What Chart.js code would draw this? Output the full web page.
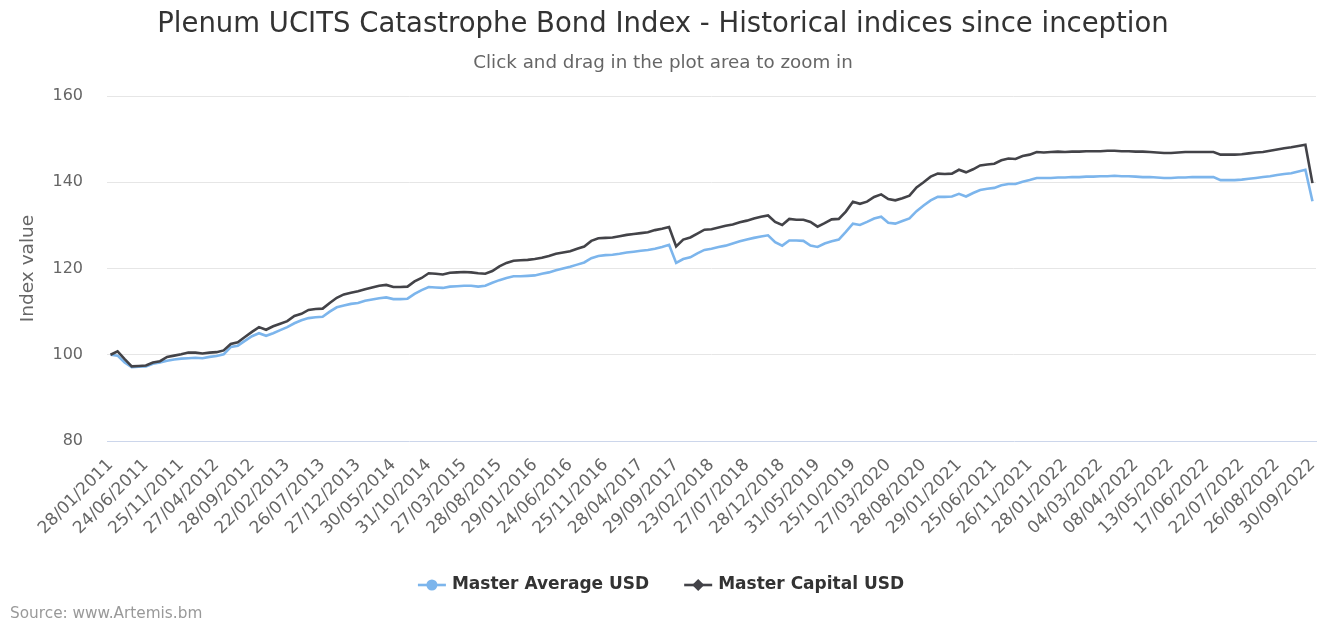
<!DOCTYPE html>
<html><head><meta charset="utf-8">
<script src="https://cdn.jsdelivr.net/npm/chart.js@4"></script>
<style>html,body{margin:0;padding:0;background:#fff}#wrap{width:1338px;height:632px;position:relative}canvas{display:block}</style>
</head><body><div id="wrap"><canvas id="c" width="1338" height="632"></canvas></div>
<script>
const titleText = 'Plenum UCITS Catastrophe Bond Index - Historical indices since inception';
const subtitleText = 'Click and drag in the plot area to zoom in';
const yAxisTitle = 'Index value';
const sourceText = 'Source: www.Artemis.bm';
const seriesNames = ['Master Average USD', 'Master Capital USD'];
const yTicks = [80, 100, 120, 140, 160];
const labelEvery = 5;

const dates = [
'28/01/2011','25/02/2011','25/03/2011','29/04/2011','27/05/2011','24/06/2011','29/07/2011','26/08/2011','30/09/2011','28/10/2011','25/11/2011','30/12/2011',
'27/01/2012','24/02/2012','30/03/2012','27/04/2012','25/05/2012','29/06/2012','27/07/2012','31/08/2012','28/09/2012','26/10/2012','30/11/2012','28/12/2012',
'25/01/2013','22/02/2013','29/03/2013','26/04/2013','31/05/2013','28/06/2013','26/07/2013','30/08/2013','27/09/2013','25/10/2013','29/11/2013','27/12/2013',
'31/01/2014','28/02/2014','28/03/2014','25/04/2014','30/05/2014','27/06/2014','25/07/2014','29/08/2014','26/09/2014','31/10/2014','28/11/2014','26/12/2014',
'30/01/2015','27/02/2015','27/03/2015','24/04/2015','29/05/2015','26/06/2015','31/07/2015','28/08/2015','25/09/2015','30/10/2015','27/11/2015','25/12/2015',
'29/01/2016','26/02/2016','25/03/2016','29/04/2016','27/05/2016','24/06/2016','29/07/2016','26/08/2016','30/09/2016','28/10/2016','25/11/2016','30/12/2016',
'27/01/2017','24/02/2017','31/03/2017','28/04/2017','26/05/2017','30/06/2017','28/07/2017','25/08/2017','29/09/2017','27/10/2017','24/11/2017','29/12/2017',
'26/01/2018','23/02/2018','30/03/2018','27/04/2018','25/05/2018','29/06/2018','27/07/2018','31/08/2018','28/09/2018','26/10/2018','30/11/2018','28/12/2018',
'25/01/2019','22/02/2019','29/03/2019','26/04/2019','31/05/2019','28/06/2019','26/07/2019','30/08/2019','27/09/2019','25/10/2019','29/11/2019','27/12/2019',
'31/01/2020','28/02/2020','27/03/2020','24/04/2020','29/05/2020','26/06/2020','31/07/2020','28/08/2020','25/09/2020','30/10/2020','27/11/2020','25/12/2020',
'29/01/2021','26/02/2021','26/03/2021','30/04/2021','28/05/2021','25/06/2021','30/07/2021','27/08/2021','24/09/2021','29/10/2021','26/11/2021','31/12/2021',
'07/01/2022','14/01/2022','21/01/2022','28/01/2022','04/02/2022','11/02/2022','18/02/2022','25/02/2022','04/03/2022','11/03/2022','18/03/2022','25/03/2022',
'01/04/2022','08/04/2022','15/04/2022','22/04/2022','29/04/2022','06/05/2022','13/05/2022','20/05/2022','27/05/2022','03/06/2022','10/06/2022','17/06/2022',
'24/06/2022','01/07/2022','08/07/2022','15/07/2022','22/07/2022','29/07/2022','05/08/2022','12/08/2022','19/08/2022','26/08/2022','02/09/2022','09/09/2022',
'16/09/2022','23/09/2022','30/09/2022'
];

const masterAverage = [
100.0, 99.8, 98.2, 97.1, 97.2, 97.3, 97.9, 98.2, 98.6, 98.9,
99.1, 99.2, 99.3, 99.2, 99.5, 99.7, 100.1, 101.8, 102.1, 103.2,
104.3, 105.0, 104.4, 105.0, 105.7, 106.4, 107.3, 108.0, 108.5, 108.7,
108.8, 110.0, 111.0, 111.4, 111.8, 112.0, 112.5, 112.8, 113.1, 113.3,
112.9, 112.9, 113.0, 114.1, 115.0, 115.7, 115.6, 115.5, 115.8, 115.9,
116.0, 116.0, 115.8, 116.0, 116.7, 117.3, 117.8, 118.2, 118.2, 118.3,
118.4, 118.8, 119.1, 119.6, 120.0, 120.4, 120.9, 121.4, 122.4, 122.9,
123.1, 123.2, 123.4, 123.7, 123.9, 124.1, 124.3, 124.6, 125.0, 125.5,
121.3, 122.2, 122.6, 123.5, 124.3, 124.6, 125.0, 125.3, 125.8, 126.3,
126.7, 127.1, 127.4, 127.7, 126.1, 125.3, 126.5, 126.5, 126.4, 125.3,
125.0, 125.8, 126.3, 126.7, 128.5, 130.4, 130.1, 130.8, 131.6, 132.0,
130.6, 130.4, 131.0, 131.6, 133.3, 134.6, 135.8, 136.6, 136.6, 136.7,
137.3, 136.7, 137.5, 138.2, 138.5, 138.7, 139.3, 139.6, 139.6, 140.1,
140.5, 141.0, 141.0, 141.0, 141.1, 141.1, 141.2, 141.2, 141.3, 141.3,
141.4, 141.4, 141.5, 141.4, 141.4, 141.3, 141.2, 141.2, 141.1, 141.0,
141.0, 141.1, 141.1, 141.2, 141.2, 141.2, 141.2, 140.5, 140.5, 140.5,
140.6, 140.8, 141.0, 141.2, 141.4, 141.7, 141.9, 142.1, 142.5, 142.9,
135.6
];

const masterCapital = [
100.0, 100.8, 99.0, 97.3, 97.4, 97.5, 98.2, 98.5, 99.5, 99.8,
100.1, 100.5, 100.5, 100.3, 100.5, 100.6, 101.0, 102.5, 102.9, 104.1,
105.3, 106.4, 105.8, 106.6, 107.2, 107.8, 109.0, 109.5, 110.4, 110.6,
110.7, 112.0, 113.2, 114.0, 114.4, 114.7, 115.2, 115.6, 116.0, 116.2,
115.7, 115.7, 115.8, 117.0, 117.8, 118.9, 118.8, 118.6, 119.0, 119.1,
119.2, 119.1, 118.9, 118.8, 119.4, 120.5, 121.3, 121.8, 121.9, 122.0,
122.2, 122.5, 122.9, 123.4, 123.7, 124.0, 124.6, 125.1, 126.4, 127.0,
127.1, 127.2, 127.5, 127.8, 128.0, 128.2, 128.4, 128.9, 129.2, 129.6,
125.1, 126.7, 127.2, 128.1, 129.0, 129.1, 129.5, 129.9, 130.2, 130.7,
131.1, 131.6, 132.0, 132.3, 130.8, 130.1, 131.5, 131.3, 131.3, 130.8,
129.7, 130.5, 131.4, 131.5, 133.2, 135.5, 135.0, 135.5, 136.6, 137.2,
136.1, 135.8, 136.3, 136.9, 138.8, 140.0, 141.3, 142.0, 141.9, 142.0,
142.9, 142.3, 143.0, 143.9, 144.1, 144.3, 145.1, 145.5, 145.4, 146.1,
146.4, 147.0, 146.9, 147.0, 147.1, 147.0, 147.1, 147.1, 147.2, 147.2,
147.2, 147.3, 147.3, 147.2, 147.2, 147.1, 147.1, 147.0, 146.9, 146.8,
146.8, 146.9, 147.0, 147.0, 147.0, 147.0, 147.0, 146.4, 146.4, 146.4,
146.5, 146.7, 146.9, 147.0, 147.3, 147.6, 147.9, 148.1, 148.4, 148.7,
139.8
];

const FONT = '"DejaVu Sans", "Liberation Sans", sans-serif';
const colAvg = '#7cb5ec';
const colCap = '#434348';

function drawSymbol(ctx, x, y, color, kind) {
  ctx.save();
  ctx.strokeStyle = color; ctx.fillStyle = color; ctx.lineWidth = 2.6;
  ctx.beginPath(); ctx.moveTo(x, y); ctx.lineTo(x + 28, y); ctx.stroke();
  ctx.beginPath();
  if (kind === 'circle') {
    ctx.arc(x + 14, y, 5.5, 0, Math.PI * 2);
  } else {
    ctx.moveTo(x + 14, y - 6); ctx.lineTo(x + 20, y); ctx.lineTo(x + 14, y + 6); ctx.lineTo(x + 8, y); ctx.closePath();
  }
  ctx.fill();
  ctx.restore();
}

const decor = {
  id: 'decor',
  afterDraw(chart) {
    const ctx = chart.ctx;
    const ca = chart.chartArea;
    ctx.save();
    ctx.textBaseline = 'middle';
    ctx.textAlign = 'center';
    ctx.fillStyle = '#333333';
    ctx.font = '27.5px ' + FONT;
    ctx.fillText(titleText, 663, 25);
    ctx.fillStyle = '#666666';
    ctx.font = '18.3px ' + FONT;
    ctx.fillText(subtitleText, 663, 63);
    // y axis title
    ctx.font = '18.5px ' + FONT;
    ctx.save();
    ctx.translate(28, (ca.top + ca.bottom) / 2);
    ctx.rotate(-Math.PI / 2);
    ctx.fillText(yAxisTitle, 0, 0);
    ctx.restore();
    // legend
    ctx.font = 'bold 17px ' + FONT;
    const w1 = ctx.measureText(seriesNames[0]).width;
    const w2 = ctx.measureText(seriesNames[1]).width;
    const total = 28 + 6 + w1 + 35 + 28 + 6 + w2;
    let x = 661 - total / 2;
    const ly = 585;
    drawSymbol(ctx, x, ly, colAvg, 'circle');
    ctx.fillStyle = '#333333';
    ctx.textAlign = 'left';
    ctx.fillText(seriesNames[0], x + 34, ly);
    x += 34 + w1 + 35;
    drawSymbol(ctx, x, ly, colCap, 'diamond');
    ctx.fillStyle = '#333333';
    ctx.fillText(seriesNames[1], x + 34, ly);
    // source
    ctx.font = '15.3px ' + FONT;
    ctx.fillStyle = '#999999';
    ctx.fillText(sourceText, 10, 614);
    ctx.restore();
  }
};

new Chart(document.getElementById('c'), {
  type: 'line',
  data: {
    labels: dates,
    datasets: [
      { label: seriesNames[0], data: masterAverage, borderColor: colAvg, backgroundColor: colAvg, borderWidth: 2.6, pointRadius: 0, tension: 0, order: 1 },
      { label: seriesNames[1], data: masterCapital, borderColor: colCap, backgroundColor: colCap, borderWidth: 2.6, pointRadius: 0, tension: 0, order: 0 }
    ]
  },
  options: {
    responsive: false,
    animation: false,
    devicePixelRatio: 1,
    layout: { padding: { left: 0, right: 22, top: 96, bottom: 0 } },
    plugins: { legend: { display: false }, title: { display: false }, tooltip: { enabled: false } },
    scales: {
      x: {
        type: 'category',
        offset: true,
        grid: { display: false, drawTicks: false },
        border: { display: true, color: '#ccd6eb', width: 1 },
        ticks: {
          autoSkip: false, maxRotation: 45, minRotation: 45, padding: 14,
          color: '#666666', font: { family: FONT, size: 17 },
          callback: function (v, i) { return i % labelEvery === 0 ? dates[i] : null; }
        },
        afterFit: function (s) { s.height = 191; s.paddingLeft = 0; s.paddingRight = 0; }
      },
      y: {
        min: yTicks[0], max: yTicks[yTicks.length - 1],
        afterBuildTicks: function (s) { s.ticks = yTicks.map(v => ({ value: v })); },
        grid: { drawTicks: false, color: c => (c.tick && c.tick.value === yTicks[0]) ? 'rgba(0,0,0,0)' : '#e6e6e6', lineWidth: 1 },
        border: { display: false },
        ticks: { padding: 24, color: '#666666', font: { family: FONT, size: 16 } },
        afterFit: function (s) { s.width = 107; }
      }
    }
  },
  plugins: [decor]
});
</script>
</body></html>
